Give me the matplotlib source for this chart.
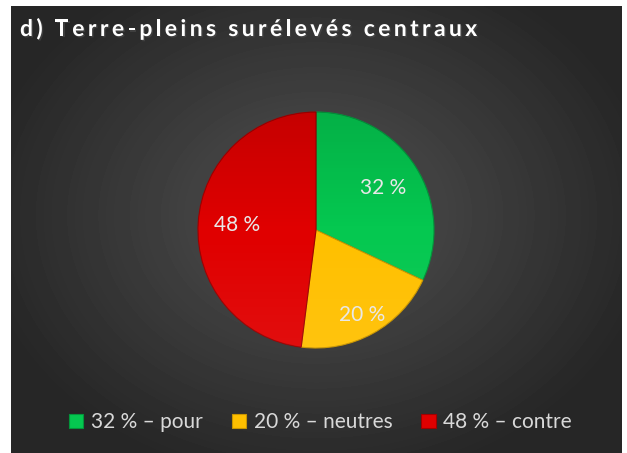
import numpy as np
import matplotlib
matplotlib.use("Agg")
import matplotlib.pyplot as plt
from matplotlib.patches import Rectangle, Circle
import matplotlib.patheffects as pe

# data
labels = ["pour", "neutres", "contre"]
values = [32, 20, 48]
colors = ["#05C850", "#FFC000", "#E00000"]
edges = ["#03953B", "#C99500", "#A00000"]
label_dist = [0.67, 0.82, 0.67]
title = "d) Terre-pleins surélevés centraux"

W, H = 627, 453
plt.rcParams['font.family'] = ['Lato', 'DejaVu Sans']

fig = plt.figure(figsize=(W / 100, H / 100), dpi=100)
fig.patch.set_facecolor("white")

# background panel with radial gradient (pixel coords)
bg = fig.add_axes([0, 0, 1, 1])
bg.set_xlim(0, W)
bg.set_ylim(H, 0)
bg.axis("off")
yy, xx = np.mgrid[6:H, 11:622]
d = np.sqrt(((xx - 316) / 340.0) ** 2 + ((yy - 215) / 270.0) ** 2)
g = 0.32 - 0.17 * np.clip(d, 0, 1)
bg.imshow(g, cmap="gray", vmin=0, vmax=1, extent=(11, 622, H, 6),
          aspect="auto", interpolation="bilinear")

# title with letter spacing
tsize = 16.5
ref = bg.text(0, 0, "", fontsize=tsize, fontweight="bold")
r = fig.canvas.get_renderer()
ref.set_text("|")
w_bar = ref.get_window_extent(r).width
for i, ch in enumerate(title):
    ref.set_text(title[:i] + "|")
    w_all = ref.get_window_extent(r).width
    x = 20 + (w_all - w_bar if i else 0) + i * 3.4
    bg.text(x, 36, ch, fontsize=tsize, fontweight="bold", color="white",
            va="baseline", ha="left",
            path_effects=[pe.withSimplePatchShadow(offset=(1, -1), alpha=0.6)])
ref.remove()

# pie
cx, cy, R = 316, 230, 118
ax = fig.add_axes([(cx - R) / W, (H - cy - R) / H, 2 * R / W, 2 * R / H])
ax.set_facecolor("none")
wedges, _ = ax.pie(values, colors=colors, startangle=90, counterclock=False,
                   wedgeprops=dict(linewidth=0.8))
for wd, ec in zip(wedges, edges):
    wd.set_edgecolor(ec)

# soft shading: lighter top, darker bottom
gy, gx = np.mgrid[-1:1:300j, -1:1:300j]
shade = np.zeros((300, 300, 4))
top = np.clip(-gy, 0, 1)
bot = np.clip(gy, 0, 1)
shade[..., :3] = (top > 0)[..., None] * 1.0
shade[..., 3] = 0.06 * top + 0.12 * bot
im = ax.imshow(shade, extent=(-1, 1, 1, -1), zorder=3)
im.set_clip_path(Circle((0, 0), 1.0, transform=ax.transData))
ax.set_xlim(-1, 1)
ax.set_ylim(-1, 1)

for wd, v, dist in zip(wedges, values, label_dist):
    a = np.deg2rad((wd.theta1 + wd.theta2) / 2)
    ax.text(dist * np.cos(a), dist * np.sin(a), f"{v} %", fontsize=15,
            color="#E8E8E8", ha="center", va="center", zorder=5)

# legend
handles = [Rectangle((0, 0), 1, 1, facecolor=c, edgecolor=e, lw=0.8)
           for c, e in zip(colors, edges)]
leg_labels = [f"{v} % \u2013 {l}" for v, l in zip(values, labels)]
fig.legend(handles, leg_labels, loc="center", bbox_to_anchor=(0.511, 0.068),
           ncol=3, frameon=False, handlelength=0.7, handleheight=0.7,
           handletextpad=0.35, columnspacing=1.4,
           prop={"size": 15}, labelcolor="#D9D9D9")

fig.savefig("out.png", dpi=100, facecolor=fig.get_facecolor())
